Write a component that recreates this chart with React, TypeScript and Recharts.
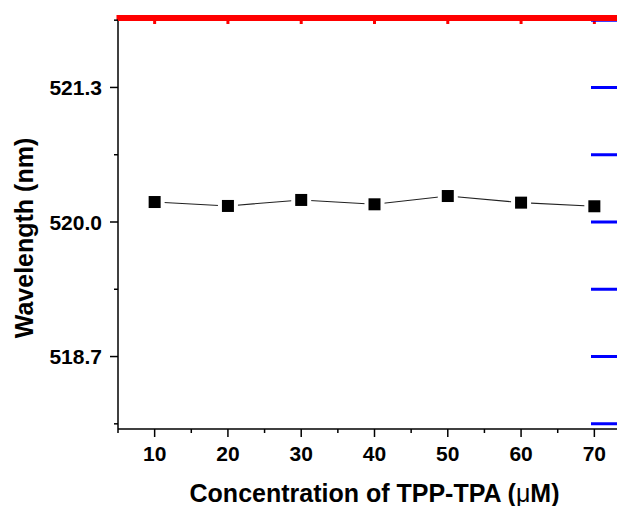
import { LineChart, Line, XAxis, YAxis, Label } from 'recharts';

const CONCENTRATIONS = [10, 20, 30, 40, 50, 60, 70];
const WAVELENGTHS = [520.193, 520.155, 520.213, 520.171, 520.251, 520.187, 520.152];

const X_MAJOR = [10, 20, 30, 40, 50, 60, 70];
const X_MINOR = [5, 15, 25, 35, 45, 55, 65, 75];
const Y_MAJOR = [518.7, 520.0, 521.3];
const Y_MINOR = [518.05, 519.35, 520.65, 521.95];
const X_DOMAIN = [5, 75];
const Y_DOMAIN = [518, 522];

const data = CONCENTRATIONS.map((c, i) => ({ c, w: WAVELENGTHS[i] }));
const xTicks = [...X_MAJOR, ...X_MINOR].sort((a, b) => a - b);
const yTicks = [...Y_MAJOR, ...Y_MINOR, Y_DOMAIN[1]].sort((a, b) => a - b);

const W = 640;
const H = 498;
const M = { top: 7, right: 17, left: 0, bottom: 0 };
const Y_AXIS_W = 110;
const X_AXIS_H = 77;
const PLOT_W = W - M.left - M.right - Y_AXIS_W;
const PLOT_H = H - M.top - M.bottom - X_AXIS_H;

const FONT = '"Liberation Sans", Arial, sans-serif';

const isMajor = (list: number[], v: number) => list.some((m) => Math.abs(m - v) < 1e-6);

function BottomTick({ x, y, payload }: any) {
  const v = payload.value;
  const major = isMajor(X_MAJOR, v);
  const top = y - PLOT_H;
  return (
    <g>
      <line x1={x} x2={x} y1={y} y2={y + (major ? 8 : 4)} stroke="#000" strokeWidth={1.5} />
      <line x1={x} x2={x} y1={top} y2={top + (major ? 9 : 5)} stroke="red" strokeWidth={3} />
      {major && (
        <text x={x} y={y + 24} textAnchor="middle" dominantBaseline="central" fontFamily={FONT} fontWeight="bold" fontSize={21} fill="#000">
          {v}
        </text>
      )}
    </g>
  );
}

function LeftTick({ x, y, payload }: any) {
  const v = payload.value;
  const right = x + PLOT_W;
  if (v === Y_DOMAIN[1]) {
    return <rect x={x} y={y} width={PLOT_W} height={6} fill="red" />;
  }
  const major = isMajor(Y_MAJOR, v);
  return (
    <g>
      <line x1={x - (major ? 8 : 4)} x2={x} y1={y} y2={y} stroke="#000" strokeWidth={1.5} />
      <line x1={right - 40} x2={right} y1={y} y2={y} stroke="blue" strokeWidth={3} />
      {major && (
        <text x={x - 16} y={y} textAnchor="end" dominantBaseline="central" fontFamily={FONT} fontWeight="bold" fontSize={21} fill="#000">
          {v.toFixed(1)}
        </text>
      )}
    </g>
  );
}

function SquareDot({ cx, cy }: any) {
  return (
    <g>
      <rect x={cx - 10} y={cy - 10} width={20} height={20} fill="#fff" />
      <rect x={cx - 6} y={cy - 6} width={12} height={12} fill="#000" />
    </g>
  );
}

export default function App() {
  return (
    <div style={{ width: 617, height: 498, overflow: 'hidden' }}>
      <LineChart width={W} height={H} data={data} margin={M}>
        <XAxis
          dataKey="c"
          type="number"
          domain={X_DOMAIN}
          ticks={xTicks}
          interval={0}
          height={X_AXIS_H}
          tickSize={0}
          tickMargin={0}
          tickLine={false}
          axisLine={{ stroke: '#000', strokeWidth: 1.5 }}
          tick={(p: any) => <BottomTick {...p} />}
        >
          <Label
            content={({ viewBox }: any) => (
              <text x={viewBox.x + viewBox.width / 2} y={viewBox.y + 64} textAnchor="middle" dominantBaseline="central" fontFamily={FONT} fontWeight="bold" fontSize={25} fill="#000">
                Concentration of TPP-TPA (<tspan fontWeight="normal">μ</tspan>M)
              </text>
            )}
          />
        </XAxis>
        <YAxis
          type="number"
          domain={Y_DOMAIN}
          ticks={yTicks}
          interval={0}
          width={Y_AXIS_W}
          tickSize={0}
          tickMargin={0}
          tickLine={false}
          axisLine={{ stroke: '#000', strokeWidth: 1.5 }}
          tick={(p: any) => <LeftTick {...p} />}
        >
          <Label
            content={({ viewBox }: any) => {
              const cx = viewBox.x + 16;
              const cy = viewBox.y + viewBox.height / 2 + 16;
              return (
                <text x={cx} y={cy} transform={`rotate(-90 ${cx} ${cy})`} textAnchor="middle" dominantBaseline="central" fontFamily={FONT} fontWeight="bold" fontSize={25} fill="#000">
                  Wavelength (nm)
                </text>
              );
            }}
          />
        </YAxis>
        <Line
          type="linear"
          dataKey="w"
          stroke="#222"
          strokeWidth={1.1}
          dot={(p: any) => <SquareDot key={p.index} {...p} />}
          activeDot={false}
          isAnimationActive={false}
        />
      </LineChart>
    </div>
  );
}
